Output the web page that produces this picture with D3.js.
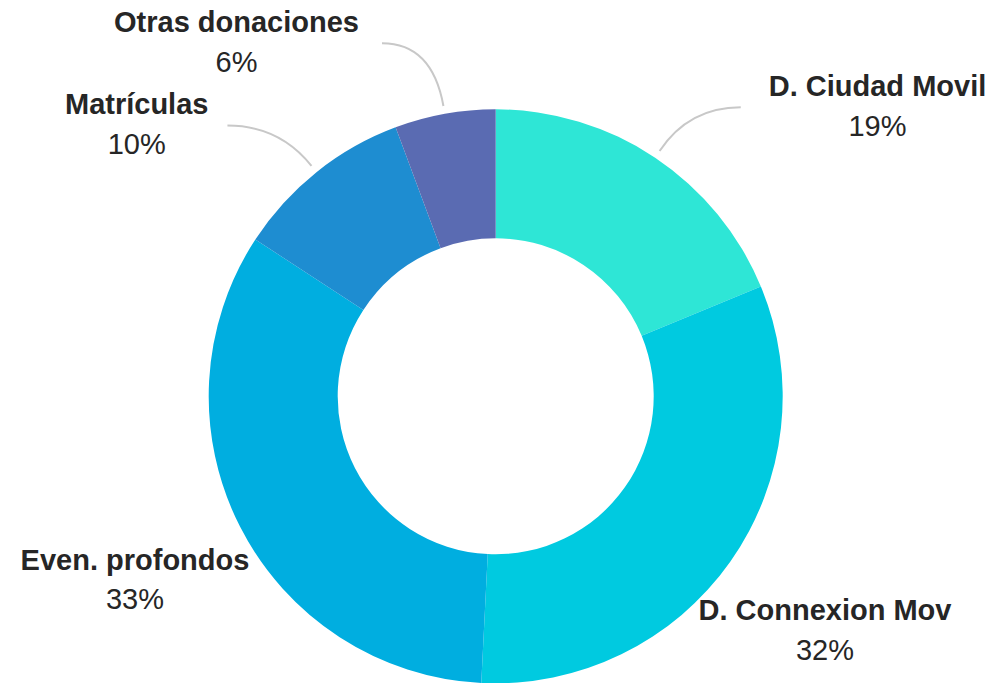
<!DOCTYPE html>
<html><head><meta charset="utf-8">
<script src="https://cdn.jsdelivr.net/npm/d3@7"></script>
<style>body{margin:0;background:#fff}</style>
</head><body>
<svg id="chart" width="1004" height="683"></svg>
<script>
// ---- data ----
const categories = ["D. Ciudad Movil", "D. Connexion Mov", "Even. profondos", "Matrículas", "Otras donaciones"];
const values = [18.75, 32.05, 33.4, 10.13, 5.67];
const colors = ["#2EE6D6", "#00CAE0", "#00AEE0", "#1E8DD1", "#5A6BB2"];

// ---- label layout (centre x, name baseline y, optional tick anchor offset) ----
const labelX = [877.5, 825, 135, 136.7, 236.5];
const labelY = [96, 620, 569.5, 114.3, 32];
const tickGap = [28, null, null, 19, 23];   // gap between label edge and tick start; null = no tick

// ---- geometry ----
const W = 1004, H = 683;
const cx = 495.7, cy = 396.3;
const rOuter = 287, rInner = 158, rTick = 295;

const svg = d3.select("#chart");
const g = svg.append("g").attr("transform", `translate(${cx},${cy})`);

const data = categories.map((c, i) => ({ name: c, value: values[i], color: colors[i], i }));
const total = d3.sum(values);
const pie = d3.pie().value(d => d.value).sort(null).startAngle(0).endAngle(2 * Math.PI);
const arcs = pie(data);
const arc = d3.arc().innerRadius(rInner).outerRadius(rOuter);

g.selectAll("path.slice").data(arcs).enter().append("path")
  .attr("class", "slice")
  .attr("d", arc)
  .attr("fill", d => d.data.color);

const fmt = v => Math.round(v / total * 100) + "%";
const labels = svg.append("g");

arcs.forEach((a, i) => {
  const lg = labels.append("g");
  const nameT = lg.append("text")
    .attr("x", labelX[i]).attr("y", labelY[i])
    .attr("text-anchor", "middle")
    .style("font-family", "Liberation Sans, Arial, sans-serif")
    .style("font-weight", "bold").style("font-size", "29px")
    .attr("fill", "#262626")
    .text(a.data.name);
  lg.append("text")
    .attr("x", labelX[i]).attr("y", labelY[i] + 39.5)
    .attr("text-anchor", "middle")
    .style("font-family", "Liberation Sans, Arial, sans-serif")
    .style("font-size", "29px")
    .attr("fill", "#262626")
    .text(fmt(a.data.value));

  if (tickGap[i] != null) {
    const mid = (a.startAngle + a.endAngle) / 2;
    const ux = Math.sin(mid), uy = -Math.cos(mid);
    const ex = cx + ux * rTick, ey = cy + uy * rTick;
    const w = nameT.node().getComputedTextLength();
    const side = ux >= 0 ? -1 : 1; // label left of tick on left side
    const sx = labelX[i] + (ux >= 0 ? -(w / 2 + tickGap[i]) : (w / 2 + tickGap[i]));
    const sy = labelY[i] + 11.3;
    const t = (ey - sy) / -uy;
    const qx = ex + ux * t, qy = sy;
    svg.insert("path", "g")
      .attr("d", `M${sx},${sy}Q${qx},${qy} ${ex},${ey}`)
      .attr("fill", "none")
      .attr("stroke", "#C8C8C8")
      .attr("stroke-width", 2);
  }
});
</script></body></html>
